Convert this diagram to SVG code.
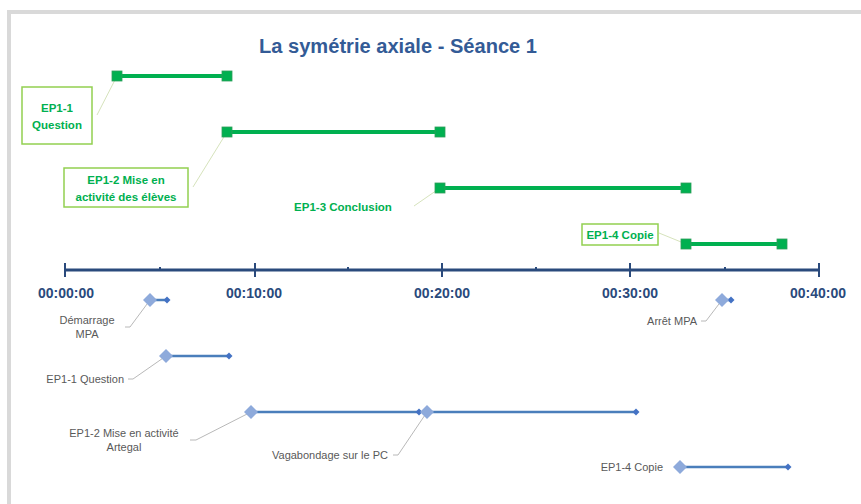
<svg xmlns="http://www.w3.org/2000/svg" width="861" height="504" viewBox="0 0 861 504">
<style>
.title{font-family:"Liberation Sans",Arial,sans-serif;font-weight:bold;font-size:20px;fill:#335b96}
.tick{font-family:"Liberation Sans",Arial,sans-serif;font-weight:bold;font-size:14px;fill:#2a4a7c;text-anchor:middle}
.gl{font-family:"Liberation Sans",Arial,sans-serif;font-weight:bold;font-size:11.5px;fill:#00b050;text-anchor:middle}
.bl{font-family:"Liberation Sans",Arial,sans-serif;font-size:11px;fill:#595959}
.gbar{stroke:#00b050;stroke-width:4;fill:none}
.gsq{fill:#00b050;stroke:#2e9e5a;stroke-width:0.8}
.gbox{fill:#fff;stroke:#92d050;stroke-width:1.5}
.gled{stroke:#d6e3bc;stroke-width:1;fill:none}
.bbar{stroke:#4a7ebb;stroke-width:2.5;fill:none}
.bdia{fill:#8eaadb}
.bend{fill:#4472c4}
.bled{stroke:#a6a6a6;stroke-width:0.8;fill:none}
.axis{stroke:#2a4a7c;stroke-width:3;fill:none}
.maj{stroke:#2a4a7c;stroke-width:2;fill:none}
</style>
<rect x="0" y="0" width="861" height="504" fill="#fff"/>
<path d="M9 504 V12 H861" stroke="#d9d9d9" stroke-width="4" fill="none"/>
<text class="title" x="398" y="53" text-anchor="middle" textLength="278" lengthAdjust="spacingAndGlyphs">La symétrie axiale - Séance 1</text>

<g id="axis">
<line class="axis" x1="65" y1="270" x2="819" y2="270"/>
<path class="maj" d="M65 263V277M255 263V277M442 263V277M630 263V277M819 263V277"/>
<path class="maj" d="M160 267V270M348 267V270M536 267V270M725 267V270"/>
<text class="tick" x="66" y="298">00:00:00</text>
<text class="tick" x="254" y="298">00:10:00</text>
<text class="tick" x="442" y="298">00:20:00</text>
<text class="tick" x="630" y="298">00:30:00</text>
<text class="tick" x="818" y="298">00:40:00</text>
</g>

<g id="connectors">
<path class="gled" d="M97 115L117 76"/>
<path class="gled" d="M193 187L227 132"/>
<path class="gled" d="M414 206L440 188"/>
<path class="gled" d="M659 233L686 244"/>
<path class="bled" d="M125 327H130L150 300"/>
<path class="bled" d="M128 379H133L166 356"/>
<path class="bled" d="M190 440H196L251 412"/>
<path class="bled" d="M393 455H398L427 412"/>
<path class="bled" d="M701 321H706L722 300"/>
</g>

<g id="g-ep1-1">
<line class="gbar" x1="117" y1="76" x2="227" y2="76"/>
<rect class="gsq" x="112" y="71" width="10" height="10"/>
<rect class="gsq" x="222" y="71" width="10" height="10"/>
<rect class="gbox" x="22" y="87" width="70" height="57"/>
<text class="gl" x="57" y="112">EP1-1</text>
<text class="gl" x="57" y="129">Question</text>
</g>
<g id="g-ep1-2">
<line class="gbar" x1="227" y1="132" x2="440" y2="132"/>
<rect class="gsq" x="222" y="127" width="10" height="10"/>
<rect class="gsq" x="435" y="127" width="10" height="10"/>
<rect class="gbox" x="64" y="168" width="124" height="39"/>
<text class="gl" x="126" y="184">EP1-2 Mise en</text>
<text class="gl" x="126" y="201">activité des élèves</text>
</g>
<g id="g-ep1-3">
<line class="gbar" x1="440" y1="188" x2="686" y2="188"/>
<rect class="gsq" x="435" y="183" width="10" height="10"/>
<rect class="gsq" x="681" y="183" width="10" height="10"/>
<text class="gl" x="343" y="211">EP1-3 Conclusion</text>
</g>
<g id="g-ep1-4">
<line class="gbar" x1="686" y1="244" x2="782" y2="244"/>
<rect class="gsq" x="681" y="239" width="10" height="10"/>
<rect class="gsq" x="777" y="239" width="10" height="10"/>
<rect class="gbox" x="582" y="224" width="76" height="21"/>
<text class="gl" x="620" y="239">EP1-4 Copie</text>
</g>

<g id="b-demarrage">
<line class="bbar" x1="150" y1="300" x2="167" y2="300"/>
<path class="bend" d="M167 296.5L170.5 300L167 303.5L163.5 300Z"/>
<path class="bdia" d="M150 293L157 300L150 307L143 300Z"/>
<text class="bl" x="87" y="324" text-anchor="middle">Démarrage</text>
<text class="bl" x="87" y="338" text-anchor="middle">MPA</text>
</g>
<g id="b-ep1-1">
<line class="bbar" x1="166" y1="356" x2="229" y2="356"/>
<path class="bend" d="M229 352.5L232.5 356L229 359.5L225.5 356Z"/>
<path class="bdia" d="M166 349L173 356L166 363L159 356Z"/>
<text class="bl" x="124" y="383" text-anchor="end">EP1-1 Question</text>
</g>
<g id="b-ep1-2">
<line class="bbar" x1="251" y1="412" x2="419" y2="412"/>
<path class="bend" d="M419 408.5L422.5 412L419 415.5L415.5 412Z"/>
<path class="bdia" d="M251 405L258 412L251 419L244 412Z"/>
<text class="bl" x="124" y="437" text-anchor="middle">EP1-2 Mise en activité</text>
<text class="bl" x="124" y="451" text-anchor="middle">Artegal</text>
</g>
<g id="b-vagabondage">
<line class="bbar" x1="427" y1="412" x2="636" y2="412"/>
<path class="bend" d="M636 408.5L639.5 412L636 415.5L632.5 412Z"/>
<path class="bdia" d="M427 405L434 412L427 419L420 412Z"/>
<text class="bl" x="388" y="459" text-anchor="end">Vagabondage sur le PC</text>
</g>
<g id="b-arret">
<line class="bbar" x1="722" y1="300" x2="731" y2="300"/>
<path class="bend" d="M731 296.5L734.5 300L731 303.5L727.5 300Z"/>
<path class="bdia" d="M722 293L729 300L722 307L715 300Z"/>
<text class="bl" x="697" y="325" text-anchor="end">Arrêt MPA</text>
</g>
<g id="b-ep1-4">
<line class="bbar" x1="680" y1="467" x2="788" y2="467"/>
<path class="bend" d="M788 463.5L791.5 467L788 470.5L784.5 467Z"/>
<path class="bdia" d="M680 460L687 467L680 474L673 467Z"/>
<text class="bl" x="663" y="471" text-anchor="end">EP1-4 Copie</text>
</g>
</svg>
